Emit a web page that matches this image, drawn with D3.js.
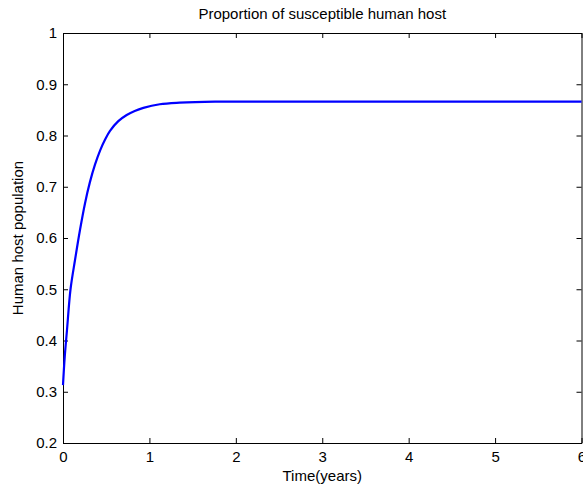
<!DOCTYPE html>
<html>
<head>
<meta charset="utf-8">
<script src="https://cdn.jsdelivr.net/npm/d3@7"></script>
<style>
  body { margin: 0; background: #fff; }
  text { font-family: "Liberation Sans", Arial, sans-serif; fill: #000; }
</style>
</head>
<body>
<script>
var width = 583, height = 488;

// time (years) and proportion of susceptible hosts
var times  = [0, 0.02, 0.046, 0.087, 0.139, 0.197, 0.255, 0.31, 0.37, 0.43, 0.49, 0.544, 0.64, 0.737, 0.83, 0.93, 1.12, 1.35, 1.76, 2.5, 3.5, 4.5, 5.5, 6];
var values = [0.313, 0.368, 0.42, 0.5, 0.557, 0.616, 0.668, 0.708, 0.743, 0.771, 0.793, 0.809, 0.828, 0.84, 0.848, 0.854, 0.861, 0.864, 0.866, 0.866, 0.866, 0.866, 0.866, 0.866];

var xTicks = [0, 1, 2, 3, 4, 5, 6];
var yTicks = [0.2, 0.3, 0.4, 0.5, 0.6, 0.7, 0.8, 0.9, 1];

var margin = {left: 63, top: 33, right: 1.5, bottom: 45};

var x = d3.scaleLinear().domain([0, 6]).range([margin.left, width - margin.right]);
var y = d3.scaleLinear().domain([0.2, 1]).range([height - margin.bottom, margin.top]);

var svg = d3.select("body").append("svg")
    .attr("width", width)
    .attr("height", height);

var fmt = d3.format("~g");

// bottom and left axes with labels, ticks pointing inside
svg.append("g")
    .attr("transform", "translate(0," + y(0.2) + ")")
    .call(d3.axisBottom(x).tickValues(xTicks).tickFormat(fmt).tickSizeInner(-5).tickSizeOuter(0).tickPadding(8));

svg.append("g")
    .attr("transform", "translate(" + x(0) + ",0)")
    .call(d3.axisLeft(y).tickValues(yTicks).tickFormat(fmt).tickSizeInner(-5).tickSizeOuter(0).tickPadding(6));

// top and right axes, ticks only (box)
svg.append("g")
    .attr("transform", "translate(0," + y(1) + ")")
    .call(d3.axisTop(x).tickValues(xTicks).tickFormat("").tickSizeInner(-5).tickSizeOuter(0));

svg.append("g")
    .attr("transform", "translate(" + x(6) + ",0)")
    .call(d3.axisRight(y).tickValues(yTicks).tickFormat("").tickSizeInner(-5).tickSizeOuter(0));

svg.selectAll(".domain, .tick line").attr("stroke", "#000").attr("stroke-width", 1);
svg.selectAll(".tick text").style("font-size", "15px").attr("fill", "#000");

var line = d3.line()
    .x(function(d, i) { return x(times[i]); })
    .y(function(d) { return y(d); })
    .curve(d3.curveCatmullRom.alpha(0.5));

svg.append("path")
    .datum(values)
    .attr("fill", "none")
    .attr("stroke", "#0000ff")
    .attr("stroke-width", 2.2)
    .attr("d", line);

var cx = (x(0) + x(6)) / 2;

svg.append("text")
    .attr("x", cx)
    .attr("y", 18.5)
    .attr("text-anchor", "middle")
    .style("font-size", "15px")
    .text("Proportion of susceptible human host");

svg.append("text")
    .attr("x", cx)
    .attr("y", 481)
    .attr("text-anchor", "middle")
    .style("font-size", "15px")
    .text("Time(years)");

svg.append("text")
    .attr("transform", "translate(23," + ((y(0.2) + y(1)) / 2) + ")rotate(-90)")
    .attr("text-anchor", "middle")
    .style("font-size", "15px")
    .text("Human host population");
</script>
</body>
</html>
